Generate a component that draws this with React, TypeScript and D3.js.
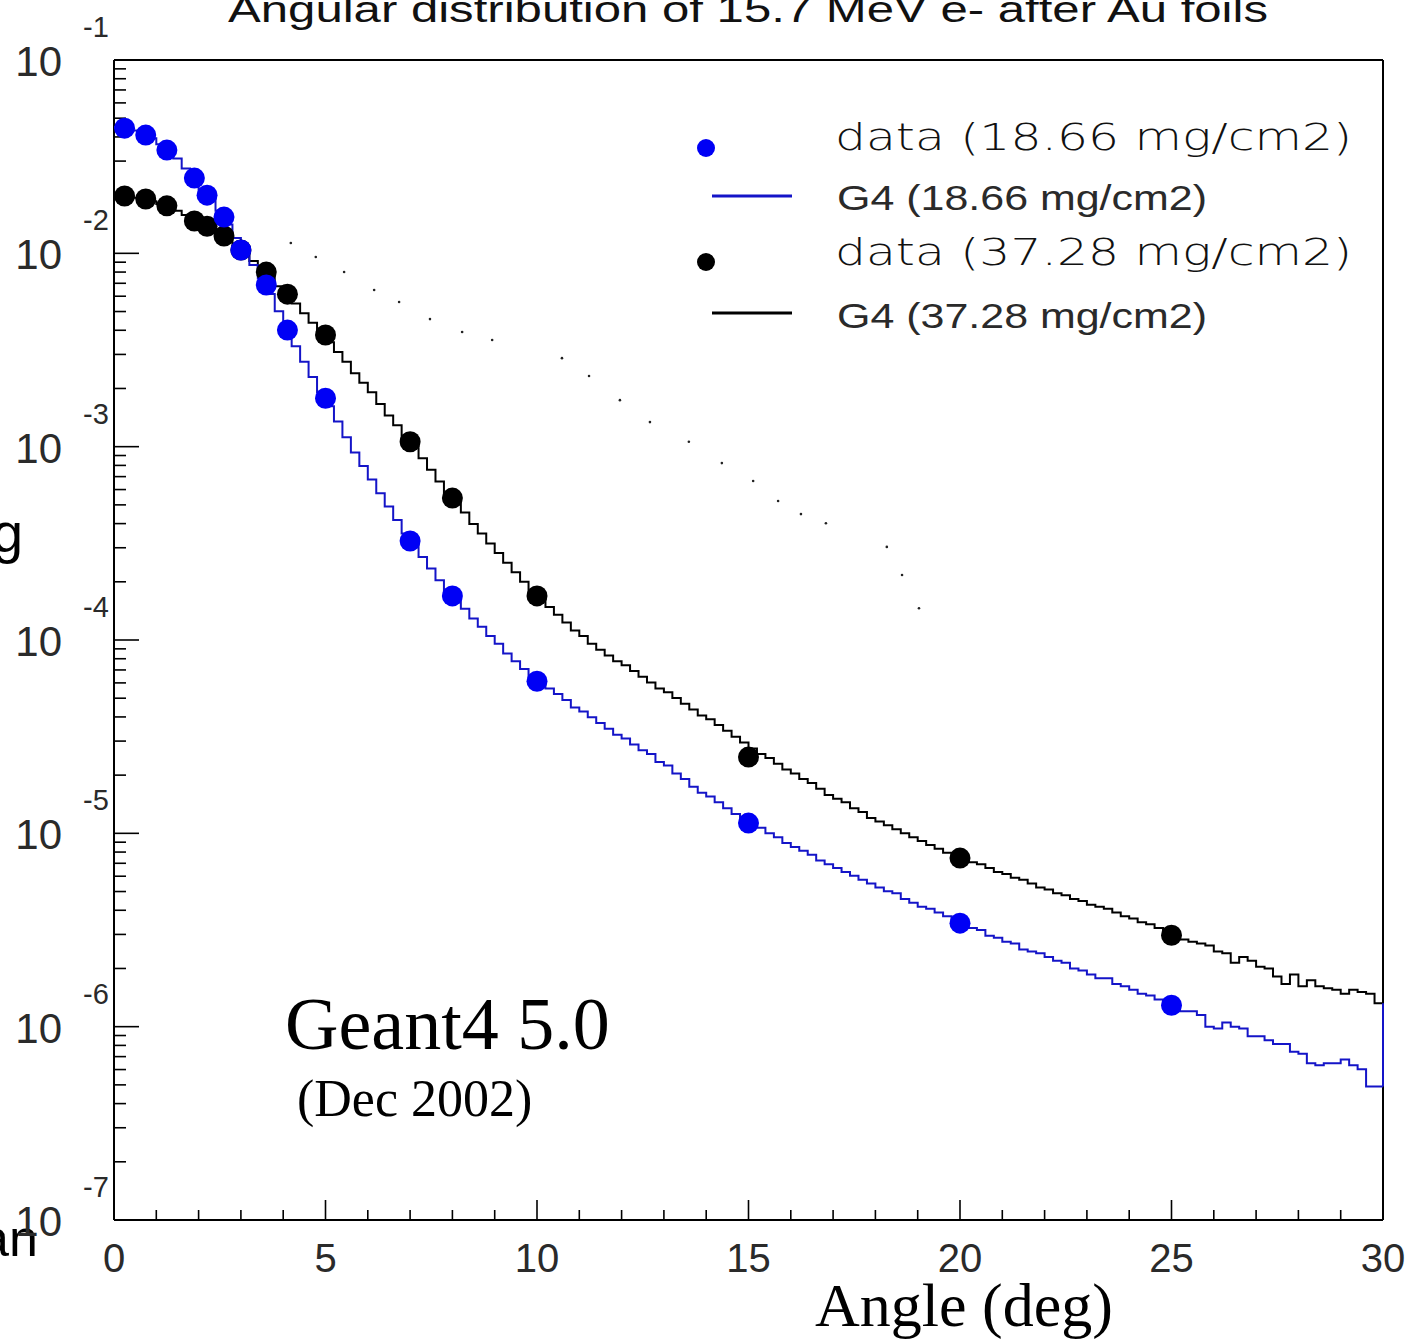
import React from "react";
import * as d3 from "d3";

// Measured data points (angle in deg, normalized counts)
const dataAngles = [0.25, 0.75, 1.25, 1.9, 2.2, 2.6, 3.0, 3.6, 4.1, 5, 7, 8, 10, 15, 20, 25];
const dataThin = [4.44e-2, 4.09e-2, 3.42e-2, 2.45e-2, 2.0e-2, 1.54e-2, 1.04e-2, 6.86e-3, 4.01e-3, 1.78e-3, 3.25e-4, 1.69e-4, 6.12e-5, 1.13e-5, 3.43e-6, 1.29e-6];
const dataThick = [1.98e-2, 1.91e-2, 1.76e-2, 1.47e-2, 1.38e-2, 1.23e-2, 1.04e-2, 8.0e-3, 6.15e-3, 3.78e-3, 1.06e-3, 5.42e-4, 1.69e-4, 2.48e-5, 7.45e-6, 2.97e-6];

// G4 histograms: 150 bins of 0.2 deg from 0 to 30
const binWidth = 0.2;
const g4Thin = [
  4.50e-2, 4.45e-2, 4.32e-2, 4.17e-2, 3.94e-2,
  3.67e-2, 3.39e-2, 3.09e-2, 2.75e-2, 2.45e-2,
  2.14e-2, 1.91e-2, 1.66e-2, 1.41e-2, 1.20e-2,
  1.02e-2, 8.71e-3, 7.41e-3, 6.17e-3, 5.01e-3,
  4.07e-3, 3.31e-3, 2.75e-3, 2.29e-3, 1.91e-3,
  1.62e-3, 1.35e-3, 1.12e-3, 9.33e-4, 7.94e-4,
  6.76e-4, 5.75e-4, 4.90e-4, 4.17e-4, 3.55e-4,
  3.09e-4, 2.69e-4, 2.34e-4, 2.04e-4, 1.78e-4,
  1.62e-4, 1.45e-4, 1.29e-4, 1.17e-4, 1.05e-4,
  9.55e-5, 8.51e-5, 7.76e-5, 7.08e-5, 6.46e-5,
  6.03e-5, 5.62e-5, 5.25e-5, 4.90e-5, 4.47e-5,
  4.27e-5, 3.98e-5, 3.72e-5, 3.47e-5, 3.24e-5,
  3.09e-5, 2.88e-5, 2.69e-5, 2.57e-5, 2.34e-5,
  2.24e-5, 2.04e-5, 1.91e-5, 1.74e-5, 1.62e-5,
  1.55e-5, 1.45e-5, 1.35e-5, 1.26e-5, 1.17e-5,
  1.12e-5, 1.07e-5, 1.00e-5, 9.55e-6, 8.91e-6,
  8.51e-6, 8.13e-6, 7.76e-6, 7.24e-6, 6.92e-6,
  6.61e-6, 6.31e-6, 6.03e-6, 5.75e-6, 5.50e-6,
  5.25e-6, 5.01e-6, 4.90e-6, 4.57e-6, 4.37e-6,
  4.17e-6, 4.07e-6, 3.89e-6, 3.72e-6, 3.55e-6,
  3.39e-6, 3.24e-6, 3.16e-6, 2.95e-6, 2.88e-6,
  2.75e-6, 2.69e-6, 2.51e-6, 2.45e-6, 2.40e-6,
  2.29e-6, 2.19e-6, 2.14e-6, 2.00e-6, 1.95e-6,
  1.86e-6, 1.78e-6, 1.78e-6, 1.66e-6, 1.62e-6,
  1.55e-6, 1.48e-6, 1.45e-6, 1.38e-6, 1.29e-6,
  1.26e-6, 1.20e-6, 1.20e-6, 1.15e-6, 1.00e-6,
  9.77e-7, 1.05e-6, 1.00e-6, 9.77e-7, 8.91e-7,
  8.91e-7, 8.51e-7, 8.13e-7, 8.13e-7, 7.41e-7,
  7.24e-7, 6.46e-7, 6.31e-7, 6.46e-7, 6.46e-7,
  6.76e-7, 6.31e-7, 6.03e-7, 4.90e-7, 4.90e-7,
];
const g4Thick = [
  1.98e-2, 1.97e-2, 1.94e-2, 1.91e-2, 1.86e-2,
  1.80e-2, 1.74e-2, 1.66e-2, 1.58e-2, 1.48e-2,
  1.41e-2, 1.33e-2, 1.26e-2, 1.17e-2, 1.10e-2,
  1.00e-2, 9.12e-3, 8.32e-3, 7.59e-3, 6.76e-3,
  6.17e-3, 5.50e-3, 4.90e-3, 4.37e-3, 3.89e-3,
  3.47e-3, 3.09e-3, 2.75e-3, 2.40e-3, 2.14e-3,
  1.91e-3, 1.66e-3, 1.45e-3, 1.29e-3, 1.12e-3,
  1.00e-3, 8.71e-4, 7.59e-4, 6.61e-4, 5.75e-4,
  5.13e-4, 4.57e-4, 3.98e-4, 3.55e-4, 3.16e-4,
  2.82e-4, 2.51e-4, 2.24e-4, 2.00e-4, 1.78e-4,
  1.62e-4, 1.48e-4, 1.35e-4, 1.23e-4, 1.12e-4,
  1.05e-4, 9.55e-5, 8.91e-5, 8.32e-5, 7.76e-5,
  7.41e-5, 6.92e-5, 6.46e-5, 6.03e-5, 5.62e-5,
  5.37e-5, 5.01e-5, 4.68e-5, 4.37e-5, 4.07e-5,
  3.89e-5, 3.63e-5, 3.39e-5, 3.16e-5, 2.95e-5,
  2.75e-5, 2.57e-5, 2.45e-5, 2.29e-5, 2.14e-5,
  2.04e-5, 1.91e-5, 1.82e-5, 1.70e-5, 1.58e-5,
  1.51e-5, 1.45e-5, 1.35e-5, 1.29e-5, 1.20e-5,
  1.15e-5, 1.10e-5, 1.05e-5, 1.00e-5, 9.55e-6,
  9.12e-6, 8.71e-6, 8.32e-6, 7.94e-6, 7.76e-6,
  7.41e-6, 7.08e-6, 6.92e-6, 6.61e-6, 6.31e-6,
  6.17e-6, 5.89e-6, 5.75e-6, 5.50e-6, 5.25e-6,
  5.13e-6, 4.90e-6, 4.79e-6, 4.57e-6, 4.47e-6,
  4.27e-6, 4.17e-6, 4.07e-6, 3.89e-6, 3.72e-6,
  3.63e-6, 3.47e-6, 3.39e-6, 3.24e-6, 3.09e-6,
  2.95e-6, 2.82e-6, 2.75e-6, 2.69e-6, 2.63e-6,
  2.45e-6, 2.40e-6, 2.14e-6, 2.29e-6, 2.19e-6,
  2.04e-6, 2.00e-6, 1.82e-6, 1.66e-6, 1.86e-6,
  1.62e-6, 1.74e-6, 1.62e-6, 1.58e-6, 1.55e-6,
  1.48e-6, 1.55e-6, 1.51e-6, 1.48e-6, 1.32e-6,
];

// Faint dotted trace seen in the picture
const dotAngles = [4.18, 4.77, 5.44, 6.15, 6.74, 7.47, 8.23, 8.94, 10.59, 11.23, 11.96, 12.67, 13.59, 14.37, 15.11, 15.7, 16.24, 16.83, 18.27, 18.63, 19.03];
const dotValues = [1.13e-2, 9.57e-3, 8.0e-3, 6.46e-3, 5.6e-3, 4.57e-3, 3.92e-3, 3.56e-3, 2.87e-3, 2.32e-3, 1.74e-3, 1.34e-3, 1.06e-3, 8.22e-4, 6.64e-4, 5.24e-4, 4.48e-4, 4.02e-4, 3.03e-4, 2.17e-4, 1.46e-4];

const xTicks = [0, 5, 10, 15, 20, 25, 30];
const yDecades = [-1, -2, -3, -4, -5, -6, -7];

const legendItems = [
  { label: "data (18.66 mg/cm2)", kind: "dot", color: "#0000f5" },
  { label: "G4 (18.66 mg/cm2)", kind: "line", color: "#1414c8" },
  { label: "data (37.28 mg/cm2)", kind: "dot", color: "#000000" },
  { label: "G4 (37.28 mg/cm2)", kind: "line", color: "#000000" },
];

const W = 1411;
const H = 1339;
const X0 = 114, X1 = 1383, Y0 = 60, Y1 = 1220;

export default function App() {
  const x = d3.scaleLinear().domain([0, 30]).range([X0, X1]);
  const y = d3.scaleLog().domain([1e-7, 1e-1]).range([Y1, Y0]);

  const histPath = (vals: number[]) => {
    const pts: [number, number][] = vals.map((v, i) => [i * binWidth, v]);
    pts.push([vals.length * binWidth, vals[vals.length - 1]]);
    return d3
      .line<[number, number]>()
      .x((d) => x(d[0]))
      .y((d) => y(d[1]))
      .curve(d3.curveStepAfter)(pts) as string;
  };

  const minorY: number[] = [];
  for (let e = -7; e < -1; e++) {
    for (let k = 2; k <= 9; k++) minorY.push(k * Math.pow(10, e));
  }
  const xMinor = d3.range(0, 31);

  const sans = "'Liberation Sans', Arial, sans-serif";
  const serif = "'Liberation Serif', 'Times New Roman', serif";
  const legendFont = "'DejaVu Sans', sans-serif";

  const blueLine = "#1414c8";
  const blueDot = "#0000f5";

  return (
    <div style={{ position: "absolute", left: 0, top: 0 }}>
      <svg width={W} height={H} style={{ display: "block", background: "#fff" }}>
        <rect x={0} y={0} width={W} height={H} fill="#fff" />
        {/* Title (cut at top) */}
        <text x={228} y={22} fontFamily={sans} fontSize={36} textLength={1040} lengthAdjust="spacingAndGlyphs" fill="#111">
          Angular distribution of 15.7 MeV e- after Au foils
        </text>

        {/* slide fragments */}
        <text x={-8} y={552} fontFamily={sans} fontSize={56} fill="#000">g</text>
        <text x={-20} y={1256} fontFamily={sans} fontSize={52} fill="#000">an</text>

        {/* frame */}
        <line x1={X0} y1={Y0} x2={X1} y2={Y0} stroke="#000" strokeWidth={2} />
        <line x1={X1} y1={Y0} x2={X1} y2={Y1} stroke="#000" strokeWidth={2} />
        <line x1={X0} y1={Y0} x2={X0} y2={Y1} stroke="#000" strokeWidth={2} />
        <line x1={X0} y1={Y1} x2={X1} y2={Y1} stroke="#000" strokeWidth={2} />

        {/* y ticks */}
        {yDecades.map((e) => (
          <line key={"yM" + e} x1={X0} x2={X0 + 25} y1={y(Math.pow(10, e))} y2={y(Math.pow(10, e))} stroke="#000" strokeWidth={1.6} />
        ))}
        {minorY.map((v, i) => (
          <line key={"ym" + i} x1={X0} x2={X0 + 12} y1={y(v)} y2={y(v)} stroke="#000" strokeWidth={1.6} />
        ))}
        {yDecades.map((e) => (
          <g key={"yl" + e}>
            <text x={62} y={y(Math.pow(10, e)) + 16} textAnchor="end" fontFamily={sans} fontSize={42} fill="#2a2a2a">10</text>
            <text x={83} y={y(Math.pow(10, e)) - 23} fontFamily={sans} fontSize={29} fill="#2a2a2a">{String(e)}</text>
          </g>
        ))}

        {/* x ticks */}
        {xMinor.map((v) => (
          <line key={"xt" + v} x1={x(v)} x2={x(v)} y1={Y1} y2={Y1 - (v % 5 === 0 ? 20 : 10)} stroke="#000" strokeWidth={1.6} />
        ))}
        {xTicks.map((v) => (
          <text key={"xl" + v} x={x(v)} y={1272} textAnchor="middle" fontFamily={sans} fontSize={40} fill="#2a2a2a">{v}</text>
        ))}

        {/* dotted faint trace */}
        {dotAngles.map((a, i) => (
          <circle key={"fd" + i} cx={x(a)} cy={y(dotValues[i])} r={1.3} fill="#222" />
        ))}

        {/* G4 histograms */}
        <path d={histPath(g4Thick)} fill="none" stroke="#000" strokeWidth={2} />
        <path d={histPath(g4Thin)} fill="none" stroke={blueLine} strokeWidth={2} />
        <line x1={x(30)} x2={x(30)} y1={y(g4Thin[g4Thin.length - 1])} y2={y(g4Thick[g4Thick.length - 1])} stroke={blueLine} strokeWidth={2} />

        {/* data points */}
        {dataAngles.map((a, i) => (
          <circle key={"dk" + i} cx={x(a)} cy={y(dataThick[i])} r={10.5} fill="#000" />
        ))}
        {dataAngles.map((a, i) => (
          <circle key={"db" + i} cx={x(a)} cy={y(dataThin[i])} r={10.5} fill={blueDot} />
        ))}

        {/* legend */}
        {legendItems.map((it, i) => {
          const cy = [148, 196, 262, 313][i];
          const ty = [150, 210, 265, 328][i];
          return (
            <g key={"lg" + i}>
              {it.kind === "dot" ? (
                <circle cx={706} cy={cy} r={9} fill={it.color} />
              ) : (
                <line x1={712} x2={792} y1={cy} y2={cy} stroke={it.color} strokeWidth={3} />
              )}
              {it.kind === "dot" ? (
                <text x={835} y={ty} fontFamily={legendFont} fontSize={38} fontWeight={300} textLength={517} lengthAdjust="spacingAndGlyphs" fill="#111">
                  {it.label}
                </text>
              ) : (
                <text x={837} y={ty} fontFamily={sans} fontSize={35} textLength={370} lengthAdjust="spacingAndGlyphs" fill="#2a2a2a">
                  {it.label}
                </text>
              )}
            </g>
          );
        })}

        {/* annotations */}
        <text x={285} y={1049} fontFamily={serif} fontSize={74} fill="#000">Geant4 5.0</text>
        <text x={297} y={1116} fontFamily={serif} fontSize={52} fill="#000">(Dec 2002)</text>
        <text x={815} y={1326} fontFamily={serif} fontSize={62} fill="#000">Angle (deg)</text>
      </svg>
    </div>
  );
}
